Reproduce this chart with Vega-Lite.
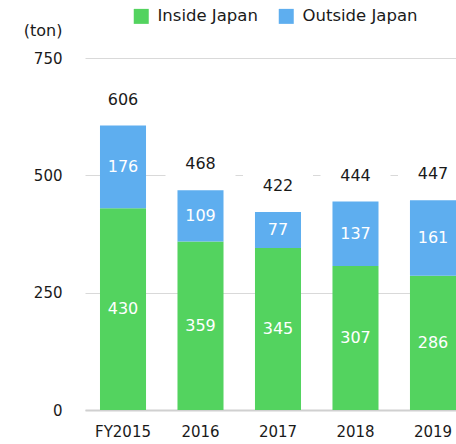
{
  "$schema": "https://vega.github.io/schema/vega-lite/v6.json",
  "width": 371,
  "height": 352,
  "autosize": "none",
  "padding": {"left": 85, "top": 58, "right": 0, "bottom": 34},
  "background": "white",
  "config": {
    "font": "DejaVu Sans",
    "view": {"stroke": null},
    "axis": {"gridColor": "#d9d9d9", "gridWidth": 1, "labelColor": "#1a1a1a", "titleColor": "#1a1a1a"}
  },
  "data": {
    "values": [
      {"year": "FY2015", "cat": "Inside Japan", "value": 430},
      {"year": "FY2015", "cat": "Outside Japan", "value": 176},
      {"year": "2016", "cat": "Inside Japan", "value": 359},
      {"year": "2016", "cat": "Outside Japan", "value": 109},
      {"year": "2017", "cat": "Inside Japan", "value": 345},
      {"year": "2017", "cat": "Outside Japan", "value": 77},
      {"year": "2018", "cat": "Inside Japan", "value": 307},
      {"year": "2018", "cat": "Outside Japan", "value": 137},
      {"year": "2019", "cat": "Inside Japan", "value": 286},
      {"year": "2019", "cat": "Outside Japan", "value": 161}
    ]
  },
  "encoding": {
    "x": {
      "field": "year",
      "type": "nominal",
      "sort": null,
      "scale": {"paddingInner": 0.406, "paddingOuter": 0.0967, "align": 1},
      "axis": {
        "title": null,
        "labelAngle": 0,
        "ticks": false,
        "grid": false,
        "domainColor": "#d0d0d0",
        "domainWidth": 2,
        "labelFontSize": 15,
        "labelPadding": 14
      }
    }
  },
  "layer": [
    {
      "mark": {"type": "bar"},
      "encoding": {
        "y": {
          "field": "value",
          "type": "quantitative",
          "stack": "zero",
          "scale": {"domain": [0, 750], "nice": false},
          "axis": {
            "values": [0, 250, 500, 750],
            "ticks": false,
            "domain": false,
            "labelFontSize": 15,
            "labelPadding": 23,
            "title": "(ton)",
            "titleAngle": 0,
            "titleAlign": "right",
            "titleBaseline": "middle",
            "titleX": -23,
            "titleY": -28,
            "titleFontSize": 16,
            "titleFontWeight": "normal"
          }
        },
        "order": {"field": "cat", "sort": "ascending"},
        "color": {
          "field": "cat",
          "type": "nominal",
          "scale": {"domain": ["Inside Japan", "Outside Japan"], "range": ["#53d35f", "#5eaeef"]},
          "legend": {
            "title": null,
            "orient": "none",
            "direction": "horizontal",
            "legendX": 48,
            "legendY": -50,
            "symbolType": "square",
            "symbolSize": 225,
            "symbolStrokeWidth": 0,
            "symbolOpacity": 1,
            "labelFontSize": 16.5,
            "labelOffset": 8,
            "columnPadding": 20,
            "padding": 0,
            "labelColor": "#1a1a1a"
          }
        }
      }
    },
    {
      "transform": [
        {"stack": "value", "groupby": ["year"], "sort": [{"field": "cat", "order": "ascending"}], "as": ["v0", "v1"]},
        {"calculate": "(datum.v0 + datum.v1) / 2", "as": "mid"}
      ],
      "mark": {"type": "text", "color": "white", "fontSize": 16, "baseline": "middle"},
      "encoding": {
        "y": {"field": "mid", "type": "quantitative"},
        "text": {"field": "value", "type": "quantitative"}
      }
    },
    {
      "transform": [{"aggregate": [{"op": "sum", "field": "value", "as": "total"}], "groupby": ["year"]}],
      "mark": {"type": "tick", "color": "white", "opacity": 1, "size": 70, "thickness": 26, "yOffset": -26},
      "encoding": {
        "y": {"field": "total", "type": "quantitative"}
      }
    },
    {
      "transform": [{"aggregate": [{"op": "sum", "field": "value", "as": "total"}], "groupby": ["year"]}],
      "mark": {"type": "text", "color": "#1a1a1a", "fontSize": 16, "baseline": "middle", "dy": -26},
      "encoding": {
        "y": {"field": "total", "type": "quantitative"},
        "text": {"field": "total", "type": "quantitative"}
      }
    }
  ]
}
